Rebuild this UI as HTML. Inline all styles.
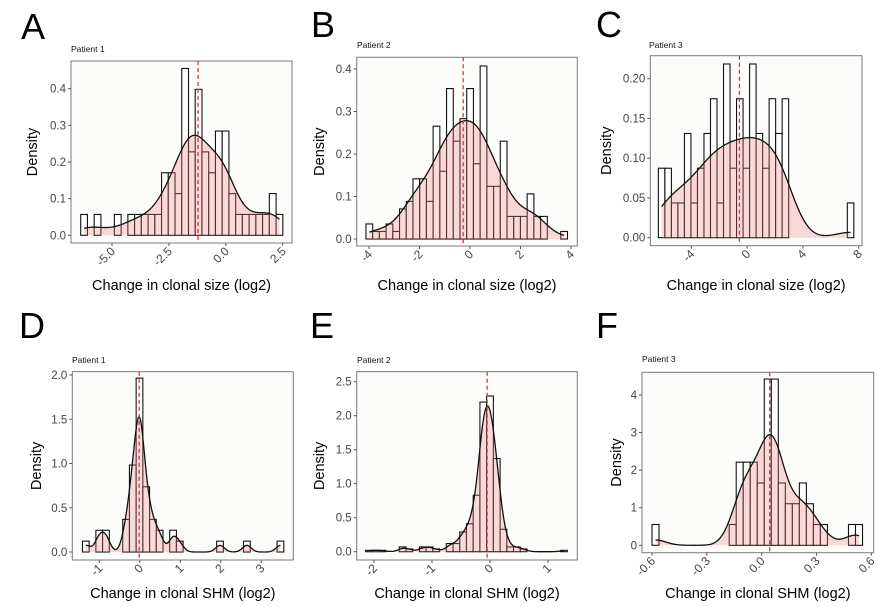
<!DOCTYPE html>
<html><head><meta charset="utf-8"><style>
html,body{margin:0;padding:0;background:#fff;}
svg{display:block;font-family:"Liberation Sans",Arial,sans-serif;}
</style></head><body>
<svg id="fig" width="892" height="607" viewBox="0 0 892 607" xmlns="http://www.w3.org/2000/svg"></svg>
<script>
// ---- data ----
const binStartA=-6.375, binWidthA=0.296;
const densA=[1,0,1,0,0,1,0,1,1,1,1,1,3,3,2,8,4,7,4,3,5,5,2,1,1,1,1,1,2,1].map(c=>c*0.0569);
const medianA=-1.22;
const binStartB=-4.12, binWidthB=0.266;
const densB=[2,1,1,2,1,4,5,8,8,5,15,9,20,13,16,20,10,23,7,7,13,3,3,3,6,3,3,0,0,1].map(c=>c*0.0177);
const medianB=-0.27;
const binStartC=-6.36, binWidthC=0.467;
const densC=[2,2,1,1,3,1,2,3,4,1,5,2,4,2,5,3,2,4,3,4,0,0,0,0,0,0,0,0,0,1].map(c=>c*0.0437);
const medianC=-0.55;
const binStartD=-1.416, binWidthD=0.1657;
const densD=[1,0,2,2,0,0,3,8,16,6,3,2,0,2,1,0,0,0,0,0,1,0,0,0,1,0,0,0,0,1].map(c=>c*0.1228);
const medianD=-0.015;
const binStartE=-2.144, binWidthE=0.1159;
const densE=[0.02,0.02,0.02,0,0,0.07,0.04,0,0.07,0.07,0.04,0,0.12,0.12,0.29,0.41,0.83,2.2,2.29,1.37,0.33,0.07,0.07,0.04,0,0,0,0,0,0.02];
const medianE=-0.05;
const binStartF=-0.6, binWidthF=0.0384;
const densF=[1,0,0,0,0,0,0,0,0,0,0,1,4,4,4,3,8,8,3,2,2,3,2,1,1,0,0,0,1,1].map(c=>c*0.553);
const medianF=0.044;
const xTicksA=[-5,-2.5,0,2.5], xLabA=["-5.0","-2.5","0.0","2.5"];
const yTicksA=[0,0.1,0.2,0.3,0.4], yLabA=["0.0","0.1","0.2","0.3","0.4"];
const xTicksB=[-4,-2,0,2,4], xLabB=["-4","-2","0","2","4"];
const yTicksB=[0,0.1,0.2,0.3,0.4], yLabB=["0.0","0.1","0.2","0.3","0.4"];
const xTicksC=[-4,0,4,8], xLabC=["-4","0","4","8"];
const yTicksC=[0,0.05,0.1,0.15,0.2], yLabC=["0.00","0.05","0.10","0.15","0.20"];
const xTicksD=[-1,0,1,2,3], xLabD=["-1","0","1","2","3"];
const yTicksD=[0,0.5,1,1.5,2], yLabD=["0.0","0.5","1.0","1.5","2.0"];
const xTicksE=[-2,-1,0,1], xLabE=["-2","-1","0","1"];
const yTicksE=[0,0.5,1,1.5,2,2.5], yLabE=["0.0","0.5","1.0","1.5","2.0","2.5"];
const xTicksF=[-0.6,-0.3,0,0.3,0.6], xLabF=["-0.6","-0.3","0.0","0.3","0.6"];
const yTicksF=[0,1,2,3,4], yLabF=["0","1","2","3","4"];

// ---- layout (pixels) ----
const panels=[
 {id:'a',letter:'A',lx:21,ly:39,title:'Patient 1',tx:71,ty:52,box:[71,61,292,243],xc:[-5,112,2.5,282.7],yc:[0,235.3,0.4,88.7],xt:'Change in clonal size (log2)',xty:285,dx:33,adj:1,
  bs:binStartA,bw:binWidthA,d:densA,med:medianA,xT:xTicksA,xL:xLabA,yT:yTicksA,yL:yLabA},
 {id:'b',letter:'B',lx:311,ly:37,title:'Patient 2',tx:357,ty:48,box:[356.7,57.3,577.3,246],xc:[-4,369,4,571],yc:[0,239,0.4,69],xt:'Change in clonal size (log2)',xty:285,dx:320,adj:1,
  bs:binStartB,bw:binWidthB,d:densB,med:medianB,xT:xTicksB,xL:xLabB,yT:yTicksB,yL:yLabB},
 {id:'c',letter:'C',lx:596,ly:37,title:'Patient 3',tx:649,ty:48,box:[650.3,55.7,862,245.7],xc:[-4,691.3,8,858.7],yc:[0,237.7,0.2,78.7],xt:'Change in clonal size (log2)',xty:285,dx:607,adj:1,
  bs:binStartC,bw:binWidthC,d:densC,med:medianC,xT:xTicksC,xL:xLabC,yT:yTicksC,yL:yLabC},
 {id:'d',letter:'D',lx:19,ly:338,title:'Patient 1',tx:72,ty:363,box:[72.3,371.7,293.3,560],xc:[-1,99.3,3,261.3],yc:[0,552,2,375],xt:'Change in clonal SHM (log2)',xty:593,dx:37,adj:1,
  bs:binStartD,bw:binWidthD,d:densD,med:medianD,xT:xTicksD,xL:xLabD,yT:yTicksD,yL:yLabD},
 {id:'e',letter:'E',lx:310,ly:338,title:'Patient 2',tx:357,ty:363,box:[356.7,371.7,577.3,560],xc:[-2,374,1,548],yc:[0,551.7,2.5,381.7],xt:'Change in clonal SHM (log2)',xty:593,dx:320,adj:1.7,
  bs:binStartE,bw:binWidthE,d:densE,med:medianE,xT:xTicksE,xL:xLabE,yT:yTicksE,yL:yLabE},
 {id:'f',letter:'F',lx:596,ly:338,title:'Patient 3',tx:642,ty:362,box:[642,372.3,873.7,552.7],xc:[-0.6,652,0.6,871.3],yc:[0,545.3,4,395],xt:'Change in clonal SHM (log2)',xty:593,dx:617,adj:1,
  bs:binStartF,bw:binWidthF,d:densF,med:medianF,xT:xTicksF,xL:xLabF,yT:yTicksF,yL:yLabF}
];
const NS='http://www.w3.org/2000/svg';
const svg=document.getElementById('fig');
function el(tag,attrs,parent,txt){const e=document.createElementNS(NS,tag);for(const k in attrs)e.setAttribute(k,attrs[k]);if(txt!==undefined)e.textContent=txt;(parent||svg).appendChild(e);return e;}

function kde(p){
  const xs=[],ws=[];let W=0;
  p.d.forEach((v,i)=>{if(v>0){xs.push(p.bs+(i+0.5)*p.bw);ws.push(v);W+=v;}});
  let m=0;xs.forEach((x,i)=>m+=x*ws[i]/W);
  let vv=0;xs.forEach((x,i)=>vv+=ws[i]/W*(x-m)*(x-m));
  const sd=Math.sqrt(vv);
  function q(pr){let c=0;for(let i=0;i<xs.length;i++){c+=ws[i]/W;if(c>=pr)return xs[i];}return xs[xs.length-1];}
  const iqr=q(0.75)-q(0.25);
  const nEff=p.d.reduce((a,b)=>a+b,0)*p.bw*60;
  let h=0.9*Math.min(sd,iqr>0?iqr/1.34:sd)*Math.pow(Math.max(nEff,2),-0.2);
  h=Math.sqrt(h*h+p.bw*p.bw/12)*p.adj;
  const lo=xs[0],hi=xs[xs.length-1];const pts=[];
  for(let k=0;k<=200;k++){const x=lo+(hi-lo)*k/200;let s=0;
    xs.forEach((xi,i)=>{const z=(x-xi)/h;s+=ws[i]/W*Math.exp(-0.5*z*z);});
    pts.push([x,s/(h*Math.sqrt(2*Math.PI))]);}
  return pts;
}

panels.forEach(p=>{
  const g=el('g',{});
  
  
  const X=v=>p.xc[1]+(v-p.xc[0])*(p.xc[3]-p.xc[1])/(p.xc[2]-p.xc[0]);
  const Y=v=>p.yc[1]+(v-p.yc[0])*(p.yc[3]-p.yc[1])/(p.yc[2]-p.yc[0]);
  const [x0,y0,x1,y1]=p.box;
  const L=el('text',{x:p.lx,y:p.ly,'font-size':36,fill:'#000'},g,p.letter);
  
  
  const T=el('text',{x:p.tx,y:p.ty,'font-size':8.5,fill:'#111'},g,p.title);
  
  
  const bg=el('rect',{x:x0,y:y0,width:x1-x0,height:y1-y0,fill:'#fcfcfa',stroke:'none'},g);
  
  
  p.d.forEach((v,i)=>{
    const bx=X(p.bs+i*p.bw),bx2=X(p.bs+(i+1)*p.bw);
    const r=el('rect',{x:bx,y:Y(v),width:bx2-bx,height:Y(0)-Y(v),fill:'#fff',stroke:'#111','stroke-width':1.1},g);
    
    
  });
  const pts=kde(p);
  let dpath='M'+X(pts[0][0])+','+Y(0)+' '+pts.map(q=>'L'+X(q[0]).toFixed(2)+','+Y(q[1]).toFixed(2)).join(' ')+' L'+X(pts[pts.length-1][0])+','+Y(0)+'Z';
  const fa=el('path',{d:dpath,fill:'rgba(240,128,128,0.3)',stroke:'none'},g);
  
  
  const ln=el('path',{d:'M'+pts.map(q=>X(q[0]).toFixed(2)+','+Y(q[1]).toFixed(2)).join(' L'),fill:'none',stroke:'#111','stroke-width':1.3},g);
  
  
  const md=el('line',{x1:X(p.med),x2:X(p.med),y1:y0,y2:y1,stroke:'#e0303a','stroke-width':1.3,'stroke-dasharray':'4,3'},g);
  
  
  const bd=el('rect',{x:x0,y:y0,width:x1-x0,height:y1-y0,fill:'none',stroke:'#7a7a7a','stroke-width':1},g);
  
  
  p.yT.forEach((v,i)=>{
    const tk=el('line',{x1:x0-3,x2:x0,y1:Y(v),y2:Y(v),stroke:'#555'},g);
    
    
    const tl=el('text',{x:x0-5,y:Y(v)+4,'font-size':11.5,fill:'#444','text-anchor':'end'},g,p.yL[i]);
    
    
  });
  p.xT.forEach((v,i)=>{
    const tk=el('line',{x1:X(v),x2:X(v),y1:y1,y2:y1+3,stroke:'#555'},g);
    
    
    const tx=X(v)+4,ty=y1+9;
    const tl=el('text',{x:tx,y:ty,'font-size':12,fill:'#444','text-anchor':'end',transform:'rotate(-45 '+tx+' '+ty+')'},g,p.xL[i]);
    
    
  });
  const xa=el('text',{x:(x0+x1)/2,y:p.xty+5,'font-size':14.5,fill:'#000','text-anchor':'middle'},g,p.xt);
  
  
  const cy=(y0+y1)/2;
  const ya=el('text',{x:p.dx,y:cy,'font-size':14.5,fill:'#000','text-anchor':'middle',transform:'rotate(-90 '+p.dx+' '+cy+')','dominant-baseline':'middle'},g,'Density');
  
  
});
</script>
</body></html>
